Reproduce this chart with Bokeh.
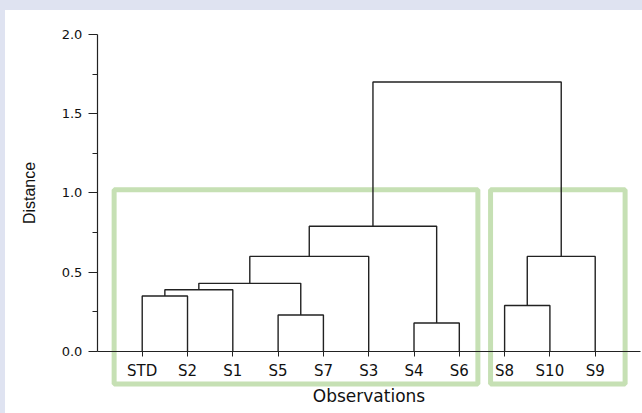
import math
from bokeh.plotting import figure
from bokeh.models import Range1d, FixedTicker, PrintfTickFormatter, Div
from bokeh.core.properties import value
from bokeh.layouts import column, row
from bokeh.embed import file_html
from bokeh.resources import INLINE

# ---- data ----
leaves = ["STD", "S2", "S1", "S5", "S7", "S3", "S4", "S6", "S8", "S10", "S9"]
# linkage (scipy style: index < n is a leaf, index >= n is an earlier merge)
merge_left = [0, 11, 3, 12, 14, 6, 15, 8, 18, 17]
merge_right = [1, 2, 4, 13, 5, 7, 16, 9, 10, 19]
merge_height = [0.35, 0.39, 0.23, 0.43, 0.60, 0.18, 0.79, 0.29, 0.60, 1.70]

y_ticks = [0.0, 0.5, 1.0, 1.5, 2.0]
x_title = "Observations"
y_title = "Distance"

# highlighted cluster boxes (data units)
box_left = [-0.62, 7.69]
box_right = [7.41, 10.66]
box_bottom = [-0.205, -0.205]
box_top = [1.02, 1.02]

# ---- dendrogram geometry ----
n = len(leaves)
node_x = [float(i) for i in range(n)]
node_y = [0.0] * n
xs, ys = [], []
for l, r, h in zip(merge_left, merge_right, merge_height):
    xl, yl = node_x[l], node_y[l]
    xr, yr = node_x[r], node_y[r]
    xs.append([xl, xl, xr, xr])
    ys.append([yl, h, h, yr])
    node_x.append((xl + xr) / 2.0)
    node_y.append(h)

PAGE_BG = "#dfe3f1"
INK = "#222222"

# the frame fills the whole figure; axes are pinned inside it
X0, X1 = -3.018, 11.044
Y0, Y1 = -0.391, 2.151
AXIS_X = -0.99

p = figure(width=637, height=403,
           x_range=Range1d(X0, X1), y_range=Range1d(Y0, Y1),
           output_backend="svg", toolbar_location=None,
           min_border_left=0, min_border_right=0,
           min_border_top=0, min_border_bottom=0)
p.grid.visible = False
p.outline_line_color = None
p.background_fill_color = "white"
p.border_fill_color = "white"

p.quad(left=box_left, right=box_right, bottom=box_bottom, top=box_top,
       fill_color=None, line_color="#c6e0b4", line_width=5)

p.multi_line(xs=xs, ys=ys, line_color=INK, line_width=1.4)

# y-axis title as rotated text, centred on the 0..2 axis span
p.text(x=[-2.49], y=[(y_ticks[0] + y_ticks[-1]) / 2], text=[y_title],
       angle=math.pi / 2, text_align="center", text_baseline="middle",
       text_font=value("Liberation Sans"), text_font_size="16px",
       text_color="#111111")

# x axis
xa = p.xaxis[0]
xa.fixed_location = 0
xa.bounds = (AXIS_X, 11.0)
xa.ticker = FixedTicker(ticks=list(range(n)))
xa.major_label_overrides = {i: name for i, name in enumerate(leaves)}
xa.major_tick_out = 5
xa.major_tick_in = 0
xa.minor_tick_out = 0
xa.minor_tick_in = 0
xa.axis_line_color = INK
xa.major_tick_line_color = INK
xa.axis_line_width = 1.2
xa.major_label_text_font = "DejaVu Sans"
xa.major_label_text_font_size = "15px"
xa.major_label_text_color = "#111111"
xa.major_label_standoff = 5
xa.axis_label = x_title
xa.axis_label_text_font = "DejaVu Sans"
xa.axis_label_text_font_size = "17px"
xa.axis_label_text_font_style = "normal"
xa.axis_label_text_color = "#111111"
xa.axis_label_standoff = 3

# y axis
ya = p.yaxis[0]
ya.fixed_location = AXIS_X
ya.bounds = (y_ticks[0], y_ticks[-1])
ya.ticker = FixedTicker(ticks=y_ticks,
                        minor_ticks=[(a + b) / 2 for a, b in zip(y_ticks[:-1], y_ticks[1:])])
ya.formatter = PrintfTickFormatter(format="%.1f")
ya.major_tick_out = 9
ya.major_tick_in = 0
ya.minor_tick_out = 5
ya.minor_tick_in = 0
ya.axis_line_color = INK
ya.major_tick_line_color = INK
ya.minor_tick_line_color = INK
ya.axis_line_width = 1.2
ya.major_label_text_font = "DejaVu Sans"
ya.major_label_text_font_size = "13px"
ya.major_label_text_color = "#111111"
ya.major_label_standoff = 6

top_band = Div(text="", width=642, height=10, margin=0,
               styles={"background-color": PAGE_BG})
left_band = Div(text="", width=5, height=403, margin=0,
                styles={"background-color": PAGE_BG})
layout = column(top_band, row(left_band, p, spacing=0, margin=0),
                spacing=0, margin=0)

open("out.html", "w").write(file_html(layout, INLINE))
